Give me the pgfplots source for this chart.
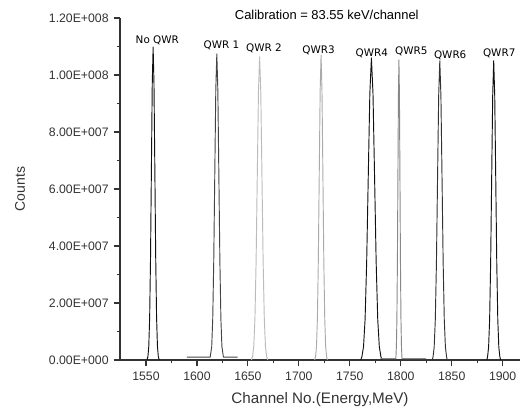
\documentclass[border=0pt]{standalone}
\usepackage{pgfplots}
\pgfplotsset{compat=1.18}
\usepackage{fontspec}
\setmainfont{Liberation Sans}
\newfontfamily\lblfont{DejaVu Sans}

\definecolor{axgray}{HTML}{333333}
\definecolor{cNo}{HTML}{111111}
\definecolor{cQ1}{HTML}{444444}
\definecolor{cQ2}{HTML}{BBBBBB}
\definecolor{cQ3}{HTML}{AAAAAA}
\definecolor{cQ4}{HTML}{111111}
\definecolor{cQ5}{HTML}{888888}
\definecolor{cQ6}{HTML}{333333}
\definecolor{cQ7}{HTML}{111111}

\begin{document}
\begin{tikzpicture}
% fix page to reference proportions (1px = 0.75pt)
\path[use as bounding box] (-90pt,-37.5pt) rectangle (303pt,270pt);
\begin{axis}[
    at={(0,0)}, anchor=south west,
    scale only axis,
    width=300pt, height=256.5pt,
    xmin=1524.5, xmax=1917,
    ymin=0, ymax=120e6,
    axis x line*=bottom,
    axis y line*=left,
    axis line style={axgray, line width=1pt},
    every tick/.style={axgray, line width=0.9pt},
    tick align=outside,
    major tick length=4.5pt,
    minor tick length=2.6pt,
    xtick={1550,1600,...,1900},
    minor x tick num=1,
    ytick={0,20e6,40e6,60e6,80e6,100e6,120e6},
    yticklabels={0.00E+000,2.00E+007,4.00E+007,6.00E+007,8.00E+007,1.00E+008,1.20E+008},
    scaled y ticks=false,
    minor y tick num=1,
    /pgf/number format/assume math mode=true,
    /pgf/number format/1000 sep={},
    ticklabel style={font=\fontsize{9.2}{10}\selectfont, text=axgray},
    xticklabel style={yshift=-1pt},
    yticklabel style={xshift=-0.5pt},
    xlabel={Channel No.(Energy,MeV)},
    ylabel={Counts},
    xlabel style={font=\fontsize{11.4}{13}\selectfont, text=axgray, yshift=-2pt},
    ylabel style={font=\fontsize{10.5}{12}\selectfont, text=axgray, yshift=11pt},
    clip=false,
    line join=round,
]
% No QWR
\addplot[cNo, line width=0.7pt] coordinates {
(1551,0)(1551.9,1.22e6)(1552.75,4.82e6)(1553.6,14.86e6)(1554.45,35.65e6)(1555.3,66.6e6)(1556.15,96.9e6)(1557,109.8e6)(1557.85,96.9e6)(1558.7,66.6e6)(1559.55,35.65e6)(1560.4,14.86e6)(1561.25,4.82e6)(1562.1,1.22e6)(1563,0)
};
% QWR 1
\addplot[cQ1, line width=0.7pt] coordinates {
(1590,1.0e6)(1613,1.0e6)(1614.5,4.7e6)(1615.5,14.5e6)(1616.5,34.9e6)(1617.5,65.1e6)(1618.5,94.8e6)(1619.5,107.4e6)(1620.5,94.8e6)(1621.5,65.1e6)(1622.5,34.9e6)(1623.5,14.5e6)(1624.5,4.7e6)(1626,1.0e6)(1640,1.0e6)
};
% QWR 2
\addplot[cQ2, line width=0.7pt] coordinates {
(1653.5,0)(1654.6,1.2e6)(1655.75,4.7e6)(1656.9,14.4e6)(1658.05,34.5e6)(1659.2,64.5e6)(1660.35,93.9e6)(1661.5,106.4e6)(1662.65,93.9e6)(1663.8,64.5e6)(1664.95,34.5e6)(1666.1,14.4e6)(1667.25,4.7e6)(1668.4,1.2e6)(1669.5,0)
};
% QWR3
\addplot[cQ3, line width=0.7pt] coordinates {
(1715.5,0)(1716.4,1.2e6)(1717.3,4.7e6)(1718.2,14.5e6)(1719.1,34.7e6)(1720,64.9e6)(1720.9,94.4e6)(1721.8,107e6)(1722.7,94.4e6)(1723.6,64.9e6)(1724.5,34.7e6)(1725.4,14.5e6)(1726.3,4.7e6)(1727.2,1.2e6)(1728,0)
};
% QWR4
\addplot[cQ4, line width=0.7pt] coordinates {
(1760.7,0)(1761.9,1.2e6)(1763.45,4.65e6)(1765,14.3e6)(1766.55,34.4e6)(1768.1,64.3e6)(1769.65,93.5e6)(1771.2,106e6)(1772.75,93.5e6)(1774.3,64.3e6)(1775.85,34.4e6)(1777.4,14.3e6)(1778.95,4.65e6)(1780.5,1.2e6)(1781.7,0)
};
% QWR5
\addplot[cQ5, line width=0.7pt] coordinates {
(1780,0.5e6)(1795.2,0.5e6)(1795.7,4.6e6)(1796.2,14.2e6)(1796.7,34.2e6)(1797.2,63.9e6)(1797.7,92.9e6)(1798.2,105.3e6)(1798.7,92.9e6)(1799.2,63.9e6)(1799.7,34.2e6)(1800.2,14.2e6)(1800.7,4.6e6)(1801.2,0.5e6)(1825,0.5e6)
};
% QWR6
\addplot[cQ6, line width=0.7pt] coordinates {
(1831,0)(1831.7,1.2e6)(1832.8,4.6e6)(1833.9,14.2e6)(1835,34.1e6)(1836.1,63.7e6)(1837.2,92.7e6)(1838.3,105e6)(1839.4,92.7e6)(1840.5,63.7e6)(1841.6,34.1e6)(1842.7,14.2e6)(1843.8,4.6e6)(1844.9,1.2e6)(1845.6,0)
};
% QWR7
\addplot[cQ7, line width=0.7pt] coordinates {
(1884.5,0)(1885.2,1.2e6)(1886.2,4.6e6)(1887.2,14.2e6)(1888.2,34.1e6)(1889.2,63.7e6)(1890.2,92.7e6)(1891.2,105e6)(1892.2,92.7e6)(1893.2,63.7e6)(1894.2,34.1e6)(1895.2,14.2e6)(1896.2,4.6e6)(1897.2,1.2e6)(1898,0)
};

\begin{scope}[every node/.style={font=\lblfont\fontsize{7.8}{9}\selectfont, text=black, inner sep=0pt}]
\node at (axis cs:1561.1,112.3e6) {No QWR};
\node at (axis cs:1624.0,110.5e6) {QWR 1};
\node at (axis cs:1665.7,109.5e6) {QWR 2};
\node at (axis cs:1719.3,108.8e6) {QWR3};
\node at (axis cs:1771.6,107.7e6) {QWR4};
\node at (axis cs:1810.3,108.2e6) {QWR5};
\node at (axis cs:1848.5,107.0e6) {QWR6};
\node at (axis cs:1896.6,107.7e6) {QWR7};
\end{scope}
\node[font=\fontsize{9.7}{11}\selectfont, text=black, inner sep=0pt] at (axis cs:1727.4,121e6) {Calibration = 83.55 keV/channel};
\end{axis}
\end{tikzpicture}
\end{document}
